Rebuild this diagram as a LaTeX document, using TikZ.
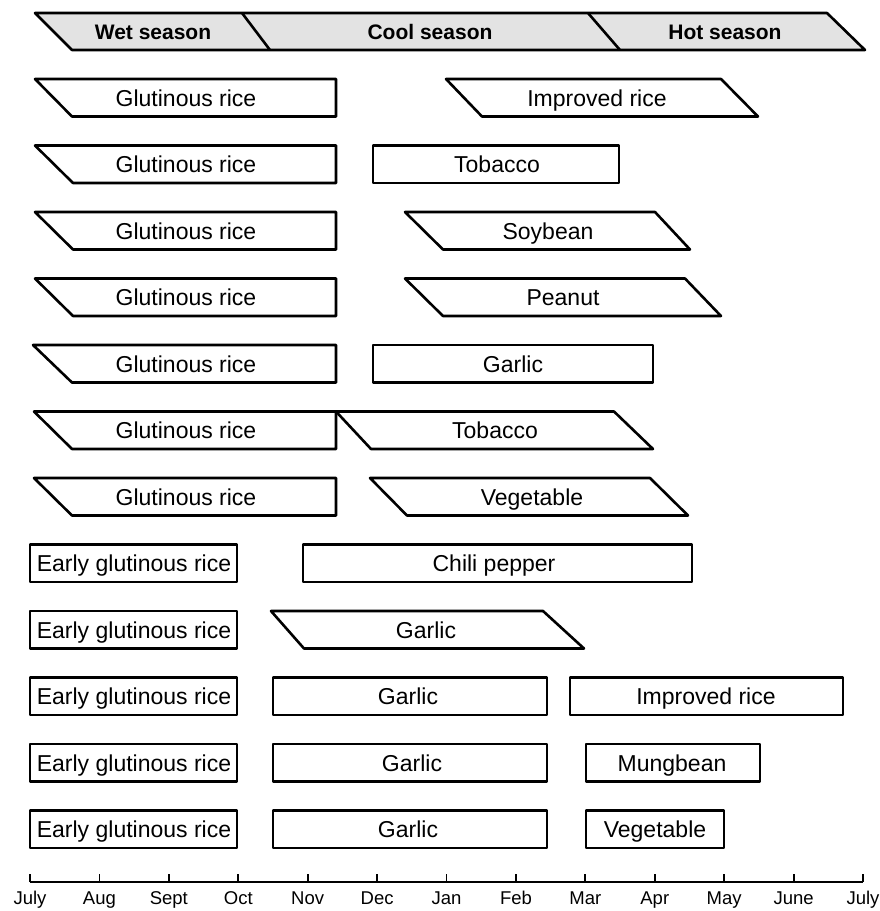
\documentclass[tikz,border=0pt]{standalone}
\usepackage{fontspec}
\setmainfont{Liberation Sans}
\begin{document}
\begin{tikzpicture}[x=1pt,y=-1pt,
  box/.style={draw=black,line width=2.6pt,line join=round},
  hdr/.style={draw=black,line width=2.6pt,line join=round,fill=gray!22},
  lab/.style={font=\fontsize{23}{26}\selectfont,inner sep=0pt,anchor=center,text height=16.5pt,text depth=0pt},
  hlab/.style={font=\fontsize{21}{24}\selectfont\bfseries,inner sep=0pt,anchor=center,text height=15pt,text depth=0pt},
  mlab/.style={font=\fontsize{18.5}{21}\selectfont,inner sep=0pt,anchor=center,text height=13.2pt,text depth=0pt}]
\useasboundingbox (0,0) rectangle (880,911);
\newcommand{\band}[5]{%
  \pgfmathsetmacro\yt{79+66.5*(#1-1)}%
  \pgfmathsetmacro\yb{\yt+37.5}%
  \draw[box] (#2,\yt) -- (#3,\yt) -- (#5,\yb) -- (#4,\yb) -- cycle;}
\newcommand{\lab}[4]{%
  \pgfmathsetmacro\ym{79+66.5*(#1-1)+19}%
  \node[lab] (#3) at (#2,\ym) {#4};}
% header
\draw[hdr] (35,13) -- (827,13) -- (865,50) -- (72,50) -- cycle;
\draw[box] (242,13) -- (270,50);
\draw[box] (588,13) -- (620,50);
\node[hlab] (wet) at (153,32) {Wet season};
\node[hlab] (cool) at (430,32) {Cool season};
\node[hlab] (hot) at (725,32) {Hot season};
% row 1
\band{1}{35}{336}{72}{336} \lab{1}{186}{g1}{Glutinous rice}
\band{1}{446}{721}{482}{758} \lab{1}{597}{ir1}{Improved rice}
% row 2
\band{2}{35}{336}{73}{336} \lab{2}{186}{g2}{Glutinous rice}
\band{2}{373}{619}{373}{619} \lab{2}{497}{tb2}{Tobacco}
% row 3
\band{3}{35}{336}{73}{336} \lab{3}{186}{g3}{Glutinous rice}
\band{3}{405}{655}{443}{690} \lab{3}{548}{sb3}{Soybean}
% row 4
\band{4}{35}{336}{73}{336} \lab{4}{186}{g4}{Glutinous rice}
\band{4}{405}{685}{443}{721} \lab{4}{563}{pn4}{Peanut}
% row 5
\band{5}{33}{336}{72}{336} \lab{5}{186}{g5}{Glutinous rice}
\band{5}{373}{653}{373}{653} \lab{5}{513}{ga5}{Garlic}
% row 6
\band{6}{34}{336}{72}{336} \lab{6}{186}{g6}{Glutinous rice}
\band{6}{336}{614}{371}{653} \lab{6}{495}{tb6}{Tobacco}
% row 7
\band{7}{34}{336}{72}{336} \lab{7}{186}{g7}{Glutinous rice}
\band{7}{370}{650}{407}{688} \lab{7}{532}{vg7}{Vegetable}
% row 8
\band{8}{30}{237}{30}{237} \lab{8}{134}{e8}{Early glutinous rice}
\band{8}{303}{692}{303}{692} \lab{8}{494}{cp8}{Chili pepper}
% row 9
\band{9}{30}{237}{30}{237} \lab{9}{134}{e9}{Early glutinous rice}
\band{9}{271}{543}{304}{584} \lab{9}{426}{ga9}{Garlic}
% row 10
\band{10}{30}{237}{30}{237} \lab{10}{134}{e10}{Early glutinous rice}
\band{10}{273}{547}{273}{547} \lab{10}{408}{ga10}{Garlic}
\band{10}{570}{843}{570}{843} \lab{10}{706}{ir10}{Improved rice}
% row 11
\band{11}{30}{237}{30}{237} \lab{11}{134}{e11}{Early glutinous rice}
\band{11}{273}{547}{273}{547} \lab{11}{412}{ga11}{Garlic}
\band{11}{586}{760}{586}{760} \lab{11}{672}{mb11}{Mungbean}
% row 12
\band{12}{30}{237}{30}{237} \lab{12}{134}{e12}{Early glutinous rice}
\band{12}{273}{547}{273}{547} \lab{12}{408}{ga12}{Garlic}
\band{12}{586}{724}{586}{724} \lab{12}{655}{vg12}{Vegetable}
% axis
\coordinate (ax0) at (30,882);
\coordinate (ax1) at (863,882);
\draw[line width=2.4pt] (ax0) -- (ax1);
\foreach \m [count=\i from 0] in {July,Aug,Sept,Oct,Nov,Dec,Jan,Feb,Mar,Apr,May,June,July}{
  \draw[line width=1.8pt] (30+69.42*\i,882) -- ++(0,-8);
  \node[mlab] (m\i) at (30+69.42*\i,898) {\m};
}
\end{tikzpicture}
\end{document}
